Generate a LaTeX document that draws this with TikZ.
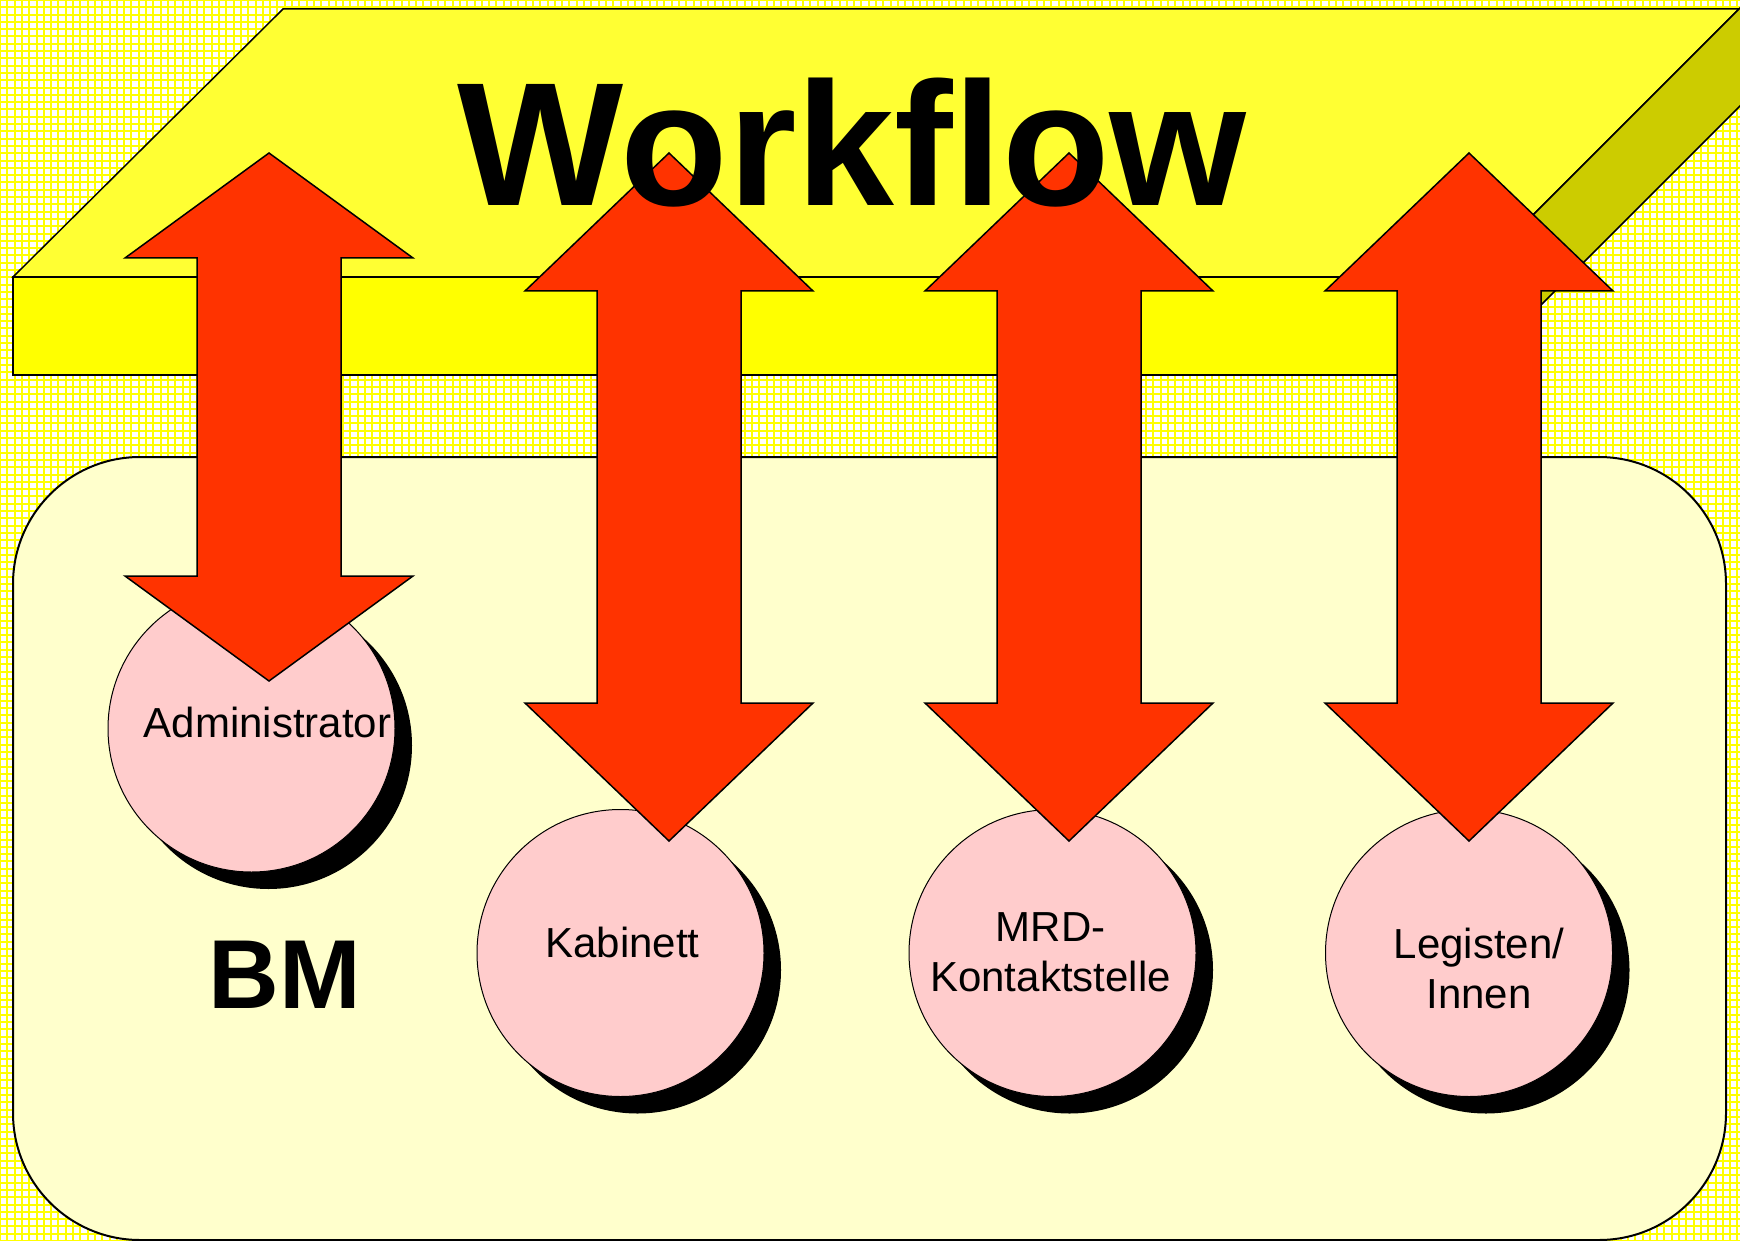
\documentclass[tikz,border=0pt]{standalone}
\usepackage{fontspec}
\setmainfont{Liberation Sans}
\usepackage{tikz}
\usetikzlibrary{positioning,shadows}
\definecolor{gridyellow}{RGB}{255,255,0}
\definecolor{slabtop}{RGB}{255,255,51}
\definecolor{slabfront}{RGB}{255,255,0}
\definecolor{slabside}{RGB}{204,204,0}
\definecolor{bmfill}{RGB}{255,255,204}
\definecolor{arrowred}{RGB}{255,51,0}
\definecolor{personfill}{RGB}{255,204,204}
% double block arrow: centre x, top tip, bottom tip, head length
\newcommand{\dblarrow}[4]{%
  \draw[face,fill=arrowred] (#1,#2) -- ++(144,#4) -- ++(-72,0) -- (#1+72,#3-#4)
    -- ++(72,0) -- (#1,#3) -- ++(-144,-#4) -- ++(72,0) -- (#1-72,#2+#4)
    -- ++(-72,0) -- cycle;}

\begin{document}
\begin{tikzpicture}[x=0.5pt,y=-0.5pt,
          face/.style={draw=black,line width=0.75pt},
          person/.style={circle,draw=black,line width=0.5pt,fill=personfill,
            minimum size=143.5pt,inner sep=0pt,
            drop shadow={shadow xshift=8.5pt,shadow yshift=-8.5pt,fill=black,opacity=1}},
          lbl/.style={font=\fontsize{21pt}{25pt}\selectfont,inner sep=0pt,align=center},
          big/.style={font=\bfseries\fontsize{88pt}{100pt}\selectfont,inner sep=0pt}
          ]
          \useasboundingbox (0,0) rectangle (1740,1241);
          % the grid paper
          \fill[white] (0,0) rectangle (1740,1241);
          \draw[gridyellow,line width=1pt,step=3.65pt] (0,1241) grid (1740,0);

          % the workflow slab
          \draw[face,fill=slabtop] (13,277) -- (283,9) -- (1739,9) -- (1471,277) -- cycle;
          \draw[face,fill=slabfront] (13,277) rectangle (1471,375);
          \draw[face,fill=slabside] (1471,277) -- (1760,-12) -- (1760,86) -- (1471,375) -- cycle;

          % the BM box
          \draw[line width=1pt,fill=bmfill,rounded corners=63.5pt] (13,457) rectangle (1726,1240);

          % the persons
          \foreach \n/\x/\y in {admin/251.5/728.5,kab/620.5/953,mrd/1052.5/953,leg/1469/953}
            \node[person] (\n) at (\x,\y) {};

          % the arrows
          \dblarrow{269}{153}{681}{105}
          \foreach \x in {669,1069,1469}
            {\dblarrow{\x}{153}{841}{138}}

          % the texts
          \node[big,anchor=base] (title) at (852,206) {Workflow};
          \node[font=\bfseries\fontsize{49pt}{55pt}\selectfont,inner sep=0pt,anchor=base] (bm) at (284.5,1008) {BM};
          \node[lbl,anchor=base] (adminlbl) at (267.5,737) {Administrator};
          \node[lbl,anchor=base] (kablbl) at (622.5,957) {Kabinett};
          \node[lbl] (mrdlbl) at (1050.5,952) {MRD-\\Kontaktstelle};
          \node[lbl] (leglbl) at (1479,968) {Legisten/\\Innen};
        \end{tikzpicture}
\end{document}
